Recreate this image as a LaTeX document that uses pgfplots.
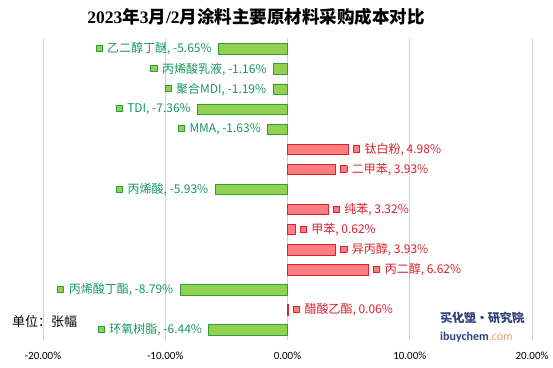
\documentclass[border=0pt]{standalone}
\usepackage{fontspec}
\setmainfont{Noto Sans CJK SC}
\newfontfamily\carlito{Carlito}
\newfontfamily\titlelat{Liberation Serif}
\usepackage{pgfplots}
\pgfplotsset{compat=1.18}
\definecolor{gfill}{HTML}{92D050}
\definecolor{gedge}{HTML}{2E9E3E}
\definecolor{gtext}{HTML}{16985A}
\definecolor{rfill}{HTML}{FF7C80}
\definecolor{redge}{HTML}{E0202C}
\definecolor{rtext}{HTML}{D8202C}
\definecolor{wmblue}{HTML}{2E3F7A}
\definecolor{wmorange}{HTML}{EE9A6A}
\newcommand{\gsq}{\raisebox{1.6pt}{\setlength{\fboxsep}{0pt}\setlength{\fboxrule}{0.8pt}\fcolorbox{gedge}{gfill}{\rule{0pt}{5.5pt}\rule{5.5pt}{0pt}}}}
\newcommand{\rsq}{\raisebox{1.6pt}{\setlength{\fboxsep}{0pt}\setlength{\fboxrule}{0.8pt}\fcolorbox{redge}{rfill}{\rule{0pt}{5.5pt}\rule{5.5pt}{0pt}}}}
\begin{document}
\begin{tikzpicture}
\begin{axis}[
  at={(43pt,27pt)}, anchor=south west,
  scale only axis, width=489pt, height=302pt,
  xbar, bar width=10.5pt, bar shift=0pt,
  xmin=-20, xmax=20, ymin=-0.55, ymax=14.5, y dir=reverse,
  ytick=\empty,
  xtick={-20,-10,0,10,20},
  xticklabels={-20.00\%,-10.00\%,0.00\%,10.00\%,20.00\%},
  xmajorgrids, grid style={draw=black!18, line width=0.8pt},
  axis line style={draw=none}, major tick length=0pt,
  tick label style={font=\carlito\fontsize{11}{13}\selectfont},
  xticklabel style={yshift=-8pt},
  clip=false,
  point meta=explicit symbolic,
]
\addplot[fill=gfill, draw=gedge, line width=0.8pt,
  nodes near coords={\gsq\hspace{4.5pt}\pgfplotspointmeta},
  every node near coord/.append style={anchor=east, xshift=-3pt, text=gtext, font=\fontsize{12}{14}\selectfont}]
  coordinates {
  (-5.65,0) [{乙二醇丁醚, -5.65\%}]
  (-1.16,1) [{丙烯酸乳液, -1.16\%}]
  (-1.19,2) [{聚合MDI, -1.19\%}]
  (-7.36,3) [{TDI, -7.36\%}]
  (-1.63,4) [{MMA, -1.63\%}]
  (-5.93,7) [{丙烯酸, -5.93\%}]
  (-8.79,12) [{丙烯酸丁酯, -8.79\%}]
  (-6.44,14) [{环氧树脂, -6.44\%}]
  };
\addplot[fill=rfill, draw=redge, line width=0.8pt,
  nodes near coords={\rsq\hspace{4.5pt}\pgfplotspointmeta},
  every node near coord/.append style={anchor=west, xshift=1pt, text=rtext, font=\fontsize{12}{14}\selectfont}]
  coordinates {
  (4.98,5) [{钛白粉, 4.98\%}]
  (3.93,6) [{二甲苯, 3.93\%}]
  (3.32,8) [{纯苯, 3.32\%}]
  (0.62,9) [{甲苯, 0.62\%}]
  (3.93,10) [{异丙醇, 3.93\%}]
  (6.62,11) [{丙二醇, 6.62\%}]
  (0.06,13) [{醋酸乙酯, 0.06\%}]
  };
\end{axis}
\node[anchor=center, font=\fontsize{17.5}{20}\selectfont\bfseries] at (256pt,350pt)
  {{\titlelat\bfseries 2023}年{\titlelat\bfseries 3}月{\titlelat\bfseries /2}月涂料主要原材料采购成本对比};
\node[anchor=west, font=\fontsize{13}{15}\selectfont, inner sep=0pt] at (12pt,45pt) {单位：张幅};
\node[anchor=west, font=\fontsize{12}{14}\selectfont\bfseries, text=wmblue, inner sep=0pt, xslant=-0.15] at (440pt,49pt) {买化塑·研究院};
\node[anchor=west, font=\carlito\fontsize{12}{14}\selectfont, inner sep=0pt] at (440pt,30pt) {\textcolor{wmblue}{\bfseries ibuychem}\textcolor{wmorange}{.com}};
\pgfresetboundingbox
\path (0,0) rectangle (553pt,367pt);
\end{tikzpicture}
\end{document}
